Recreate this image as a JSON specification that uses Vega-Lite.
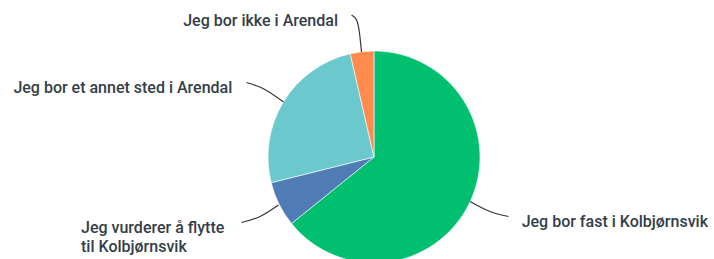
{
  "$schema": "https://vega.github.io/schema/vega-lite/v6.json",
  "width": 714,
  "height": 259,
  "autosize": {"type": "none"},
  "padding": 0,
  "background": "white",
  "config": {"view": {"stroke": null}},
  "datasets": {
    "slices": [
      {"label": "Jeg bor fast i Kolbjørnsvik", "value": 64.2, "order": 1},
      {"label": "Jeg vurderer å flytte til Kolbjørnsvik", "value": 6.9, "order": 2},
      {"label": "Jeg bor et annet sted i Arendal", "value": 25.3, "order": 3},
      {"label": "Jeg bor ikke i Arendal", "value": 3.6, "order": 4}
    ],
    "leaders": [
      {"label": "ikke", "seq": 1, "u": -0.212, "v": 1.340},
      {"label": "ikke", "seq": 2, "u": -0.165, "v": 1.292},
      {"label": "ikke", "seq": 3, "u": -0.137, "v": 1.170},
      {"label": "ikke", "seq": 4, "u": -0.118, "v": 0.991},
      {"label": "annet", "seq": 1, "u": -1.203, "v": 0.703},
      {"label": "annet", "seq": 2, "u": -1.057, "v": 0.651},
      {"label": "annet", "seq": 3, "u": -0.854, "v": 0.519},
      {"label": "vurderer", "seq": 1, "u": -1.250, "v": -0.618},
      {"label": "vurderer", "seq": 2, "u": -1.075, "v": -0.561},
      {"label": "vurderer", "seq": 3, "u": -0.901, "v": -0.453},
      {"label": "fast", "seq": 1, "u": 0.906, "v": -0.420},
      {"label": "fast", "seq": 2, "u": 1.094, "v": -0.514},
      {"label": "fast", "seq": 3, "u": 1.269, "v": -0.561}
    ],
    "labels": [
      {"text": "Jeg bor ikke i Arendal", "u": -0.340, "v": 1.236, "side": "left"},
      {"text": "Jeg bor et annet sted i Arendal", "u": -1.337, "v": 0.604, "side": "left"},
      {"text": "Jeg vurderer å flytte\ntil Kolbjørnsvik", "u": -2.764, "v": -0.717, "side": "right"},
      {"text": "Jeg bor fast i Kolbjørnsvik", "u": 1.393, "v": -0.658, "side": "right"}
    ]
  },
  "layer": [
    {
      "data": {"name": "slices"},
      "mark": {"type": "arc", "radius": 106, "stroke": "white", "strokeWidth": 0.6},
      "encoding": {
        "x": {"datum": 0, "type": "quantitative", "scale": {"domain": [-3.5283, 3.2075], "nice": false, "zero": false}, "axis": null},
        "y": {"datum": 0, "type": "quantitative", "scale": {"domain": [-0.9623, 1.4811], "nice": false, "zero": false}, "axis": null},
        "theta": {"field": "value", "type": "quantitative", "stack": true},
        "order": {"field": "order", "type": "quantitative"},
        "color": {
          "field": "label", "type": "nominal", "legend": null,
          "scale": {
            "domain": ["Jeg bor fast i Kolbjørnsvik", "Jeg vurderer å flytte til Kolbjørnsvik", "Jeg bor et annet sted i Arendal", "Jeg bor ikke i Arendal"],
            "range": ["#00BF6F", "#507CB6", "#6BC8CD", "#FF8B4F"]
          }
        }
      }
    },
    {
      "data": {"name": "leaders"},
      "mark": {"type": "line", "color": "#333333", "strokeWidth": 1.2, "interpolate": "monotone"},
      "encoding": {
        "x": {"field": "u", "type": "quantitative", "scale": {"domain": [-3.5283, 3.2075], "nice": false, "zero": false}, "axis": null},
        "y": {"field": "v", "type": "quantitative", "scale": {"domain": [-0.9623, 1.4811], "nice": false, "zero": false}, "axis": null},
        "detail": {"field": "label", "type": "nominal"},
        "order": {"field": "seq", "type": "quantitative"}
      }
    },
    {
      "data": {"name": "labels"},
      "transform": [{"filter": "datum.side === 'left'"}],
      "mark": {"type": "text", "align": "right", "baseline": "alphabetic", "font": "Roboto", "fontSize": 16, "fontWeight": 500, "color": "#333e48", "lineBreak": "\n", "lineHeight": 19},
      "encoding": {
        "x": {"field": "u", "type": "quantitative", "scale": {"domain": [-3.5283, 3.2075], "nice": false, "zero": false}, "axis": null},
        "y": {"field": "v", "type": "quantitative", "scale": {"domain": [-0.9623, 1.4811], "nice": false, "zero": false}, "axis": null},
        "text": {"field": "text", "type": "nominal"}
      }
    },
    {
      "data": {"name": "labels"},
      "transform": [{"filter": "datum.side === 'right'"}],
      "mark": {"type": "text", "align": "left", "baseline": "alphabetic", "font": "Roboto", "fontSize": 16, "fontWeight": 500, "color": "#333e48", "lineBreak": "\n", "lineHeight": 19},
      "encoding": {
        "x": {"field": "u", "type": "quantitative", "scale": {"domain": [-3.5283, 3.2075], "nice": false, "zero": false}, "axis": null},
        "y": {"field": "v", "type": "quantitative", "scale": {"domain": [-0.9623, 1.4811], "nice": false, "zero": false}, "axis": null},
        "text": {"field": "text", "type": "nominal"}
      }
    }
  ]
}
